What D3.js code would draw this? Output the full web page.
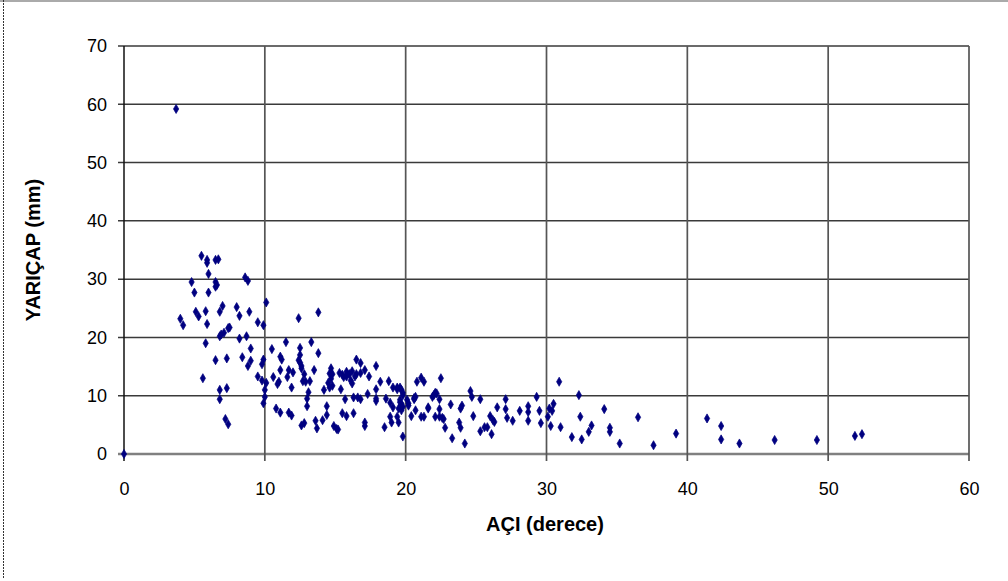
<!DOCTYPE html>
<html><head><meta charset="utf-8">
<script src="https://cdn.jsdelivr.net/npm/d3@7"></script>
<style>body{margin:0;background:#fff}svg{display:block}</style>
</head><body><svg id="c" width="1008" height="581"></svg>
<script>
const xTicks = [0,10,20,30,40,50,60];
const yTicks = [0,10,20,30,40,50,60,70];
const xTitle = "AÇI (derece)";
const yTitle = "YARIÇAP (mm)";
// angle (degrees)
const aci = [
0,3.7,5.5,5.9,5.9,6.5,6.7,6.0,8.6,8.8,4.8,6.5,6.6,6.5,5.0,6.0,10.1,7.0,8.0,5.1,5.3,5.8,6.8,8.2,8.9,4.0,4.2,5.9,9.5,9.9,7.4,7.5,7.1,6.9,6.8,8.2,8.7,11.5,5.8,9.0,10.5,6.5,7.3,8.4,9.0,8.8,9.9,9.8,11.1,11.2,11.1,11.7,5.6,9.5,9.8,10.1,10.6,11.0,10.9,11.6,10.0,10.0,9.9,6.8,7.3,6.8,10.8,11.1,11.7,11.9,7.2,7.4,
13.8,12.4,13.3,12.5,13.8,12.5,12.4,12.5,12.6,12.6,12.0,12.8,13.5,14.7,14.6,14.8,16.5,16.8,17.9,
15.3,15.5,15.6,15.8,15.8,16.0,16.2,16.4,16.5,16.8,17.1,17.4,18.2,18.8,20.8,21.1,21.3,14.7,14.5,14.8,14.6,14.2,13.1,13.0,12.7,12.9,13.2,11.9,16.1,16.2,15.4,17.9,17.3,
19.1,19.4,19.6,19.7,19.8,19.8,19.4,16.3,16.6,16.8,15.7,17.9,17.9,18.6,18.9,19.6,19.7,20.1,20.2,20.6,19.6,20.2,19.8,19.7,21.6,21.3,21.1,20.7,20.4,14.4,14.4,13.0,13.6,14.1,13.7,12.6,12.8,14.9,15.1,15.2,15.5,15.8,16.3,17.1,17.1,18.5,18.9,19.4,19.0,19.5,19.8,19.1,19.5,
22.5,22.1,22.0,22.2,21.9,22.4,20.7,20.6,21.6,22.4,22.1,22.4,22.6,22.7,23.2,22.8,23.9,24.0,23.8,23.9,23.3,24.2,24.6,24.7,24.8,25.3,25.3,25.6,25.8,26.0,26.2,26.3,26.1,26.5,27.1,27.1,27.2,27.6,28.1,28.7,28.7,28.7,29.3,29.5,29.6,30.1,30.2,30.4,30.5,30.3,30.9,31.0,32.3,32.4,31.8,32.5,33.0,33.2,34.1,34.5,34.5,35.2,36.5,37.6,39.2,41.4,42.4,42.4,43.7,46.2,49.2,51.9,52.4
];
// radius (mm)
const yaricap = [
0,59.2,34.0,33.3,32.8,33.3,33.4,30.9,30.3,29.7,29.5,29.5,29.0,28.7,27.7,27.7,26.0,25.4,25.2,24.4,23.6,24.5,24.4,23.7,24.4,23.2,22.1,22.3,22.6,22.1,21.6,21.7,20.8,20.5,20.2,19.8,20.2,19.2,19.0,18.1,18.0,16.1,16.4,16.6,16.0,15.1,16.2,15.4,16.7,16.2,14.4,14.4,13.0,13.3,12.6,12.2,13.2,12.4,12.0,13.2,11.0,9.8,8.7,11.0,11.3,9.4,7.8,7.1,7.1,6.6,6.0,5.1,
24.3,23.3,19.2,18.2,17.3,17.0,16.1,15.7,15.1,14.7,14.0,13.7,14.4,14.7,13.8,13.7,16.2,15.6,15.1,
13.9,13.6,13.2,13.3,14.1,13.7,14.2,13.3,13.7,13.9,14.4,13.3,12.4,12.5,12.4,13.1,12.4,12.9,12.2,11.7,11.4,11.0,10.6,9.5,12.5,12.4,12.5,11.4,12.6,12.1,11.1,11.1,10.3,
11.4,11.4,11.4,11.0,10.5,10.1,11.1,9.7,9.7,9.4,9.4,9.5,9.1,9.5,8.8,9.3,8.6,9.3,8.7,9.6,8.9,8.3,8.1,7.5,7.8,6.4,6.4,7.5,6.5,8.2,6.7,8.2,5.7,5.8,4.4,4.9,5.3,4.8,4.3,4.2,7.0,6.5,7.0,5.4,4.8,4.6,6.4,6.4,5.4,5.4,3.0,8.0,7.8,
13.0,10.5,10.1,10.4,9.8,9.4,9.8,9.4,8.0,7.7,6.4,6.4,6.2,6.0,8.5,4.5,7.8,8.3,5.4,4.5,2.7,1.8,10.8,9.8,6.5,9.4,3.9,4.6,4.6,6.5,5.8,5.5,3.4,8.0,9.4,7.7,6.2,5.7,7.4,8.2,7.2,5.7,9.8,7.4,5.3,6.4,7.8,7.4,8.6,4.8,12.4,4.6,10.1,6.4,2.9,2.5,3.8,4.9,7.7,4.5,3.8,1.8,6.3,1.5,3.5,6.1,4.8,2.5,1.8,2.4,2.4,3.1,3.4
];

const svg = d3.select("#c");
const mL = 124, mR = 969, mT = 46, mB = 454;
const x = d3.scaleLinear().domain([0,60]).range([mL,mR]);
const y = d3.scaleLinear().domain([0,70]).range([mB,mT]);
const font = "'Liberation Sans', Arial, sans-serif";

// outer frame hints
svg.append("line").attr("x1",0).attr("x2",1008).attr("y1",1).attr("y2",1).attr("stroke","#aaa").attr("stroke-width",2);
svg.append("line").attr("x1",3.5).attr("x2",3.5).attr("y1",0).attr("y2",578).attr("stroke","#333").attr("stroke-width",1).attr("stroke-dasharray","2,1");

// grid
const g = svg.append("g");
g.selectAll(".hg").data(yTicks).join("line")
  .attr("x1",mL-6).attr("x2",mR).attr("y1",d=>y(d)).attr("y2",d=>y(d))
  .attr("stroke",d=>d===0?"#808080":"#3a3a3a").attr("stroke-width",d=>d===0?2.5:1.5);
g.selectAll(".vg").data(xTicks).join("line")
  .attr("x1",d=>x(d)).attr("x2",d=>x(d)).attr("y1",mT).attr("y2",mB+7)
  .attr("stroke",d=>d===0?"#111":"#555").attr("stroke-width",d=>d===0?1.5:1.7);

// axes labels via d3 axes (styled)
const xa = svg.append("g").attr("transform",`translate(0,${mB})`)
  .call(d3.axisBottom(x).tickValues(xTicks).tickSize(0).tickPadding(28).tickFormat(d3.format("d")));
xa.select(".domain").remove();
xa.selectAll("text").attr("font-family",font).attr("font-size",18).attr("fill","#000");
const ya = svg.append("g").attr("transform",`translate(${mL},0)`)
  .call(d3.axisLeft(y).tickValues(yTicks).tickSize(0).tickPadding(17).tickFormat(d3.format("d")));
ya.select(".domain").remove();
ya.selectAll("text").attr("font-family",font).attr("font-size",18).attr("fill","#000");

svg.append("text").attr("x",545).attr("y",531).attr("text-anchor","middle")
  .attr("font-family",font).attr("font-size",20).attr("font-weight","bold").text(xTitle);
svg.append("text").attr("transform",`translate(40,250) rotate(-90)`).attr("text-anchor","middle")
  .attr("font-family",font).attr("font-size",20).attr("font-weight","bold").text(yTitle);

// points
const pts = aci.map((a,i)=>[a,yaricap[i]]);
svg.append("g").selectAll("path").data(pts).join("path")
  .attr("transform",d=>`translate(${x(d[0])},${y(d[1])})`)
  .attr("d",d3.symbol(d3.symbolDiamond,24))
  .attr("fill","#000080").attr("stroke","#000080").attr("stroke-width",0.7);
</script></body></html>
